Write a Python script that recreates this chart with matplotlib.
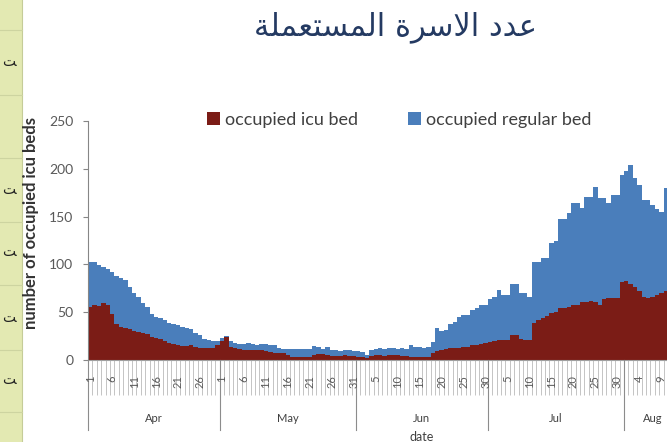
import numpy as np
import pandas as pd
import matplotlib
matplotlib.use("Agg")
import matplotlib.pyplot as plt
from matplotlib.patches import Patch, Rectangle
from matplotlib.lines import Line2D
import matplotlib.transforms as mtransforms

# daily values, starting 1 Apr
icu_beds = [55, 58, 57, 60, 58, 48, 38, 34, 33, 32, 30, 29, 28, 27, 24,
            23, 22, 20, 18, 17, 16, 15, 15, 16, 14, 13, 13, 13, 13, 16,
            # May
            20, 24, 14, 13, 11, 10, 10, 10, 10, 10, 9, 8, 7, 7, 7,
            5, 3, 3, 3, 3, 3, 5, 6, 6, 5, 4, 4, 4, 5, 4, 4,
            # Jun
            3, 3, 2, 4, 5, 5, 4, 5, 5, 5, 4, 4, 3, 3, 3,
            3, 3, 7, 9, 10, 11, 13, 13, 13, 14, 14, 16, 16, 17, 18,
            # Jul
            19, 20, 21, 21, 21, 26, 26, 22, 21, 21, 39, 42, 44, 46, 49,
            50, 54, 54, 55, 58, 58, 61, 61, 62, 61, 58, 64, 65, 65, 65, 82,
            # Aug
            83, 80, 76, 72, 66, 65, 66, 68, 70, 72]

# top of the stack (icu + regular)
total_beds = [103, 102, 99, 97, 95, 92, 88, 86, 84, 76, 70, 66, 60, 55, 48,
              45, 44, 42, 39, 38, 37, 34, 33, 32, 28, 26, 22, 21, 20, 20,
              23, 25, 20, 18, 17, 17, 18, 17, 16, 17, 17, 16, 16, 13, 12,
              12, 12, 11, 12, 12, 12, 15, 14, 11, 14, 10, 10, 9, 10, 10, 9,
              9, 8, 5, 10, 11, 13, 12, 13, 13, 12, 13, 12, 16, 14, 14,
              13, 14, 19, 33, 30, 31, 38, 40, 45, 47, 47, 52, 54, 58, 58,
              64, 66, 73, 68, 68, 80, 80, 70, 70, 66, 103, 103, 107, 107, 122,
              125, 148, 148, 154, 164, 164, 159, 171, 171, 181, 169, 169, 164, 173, 173, 194,
              198, 204, 190, 183, 167, 167, 162, 158, 155, 180]

legend_labels = ["occupied icu bed", "occupied regular bed"]
month_names = ["Apr", "May", "Jun", "Jul", "Aug"]
month_days = [30, 31, 30, 31, 13]
y_ticks = [0, 50, 100, 150, 200, 250]
# "عدد الاسرة المستعملة" in presentation forms, visual (right-to-left) order
title_forms = ("\ufecb\ufeaa\ufea9 \ufe8d\ufefb\ufeb3\ufeae\ufe93 "
               "\ufe8d\ufedf\ufee4\ufeb4\ufe98\ufecc\ufee4\ufee0\ufe94")
title_text = title_forms[::-1]

icu = np.array(icu_beds)
total = np.array(total_beds)
edges = np.arange(len(icu) + 1)
dates = pd.date_range("2020-04-01", periods=sum(month_days))

W, H = 667, 442
red = "#7b1c16"
blue = "#4a7ebb"
grey_txt = "#404040"
tick_txt = "#595959"

plt.rcParams['font.family'] = ['Lato', 'DejaVu Sans']
fig = plt.figure(figsize=(W / 100, H / 100), dpi=100)

# left strip of the spreadsheet behind the chart
fig.patches.append(Rectangle((0, 0), 22 / W, 1, transform=fig.transFigure,
                             facecolor="#e3e9b2", edgecolor="none", zorder=0))
fig.add_artist(Line2D([22 / W, 22 / W], [0, 1], color="#c5cc98", lw=0.8))
for yy in [30, 95, 158, 222, 285, 350, 412]:
    fig.add_artist(Line2D([0, 22 / W], [1 - yy / H] * 2, color="#cdd4a0", lw=0.8))
for yy in [62, 190, 252, 318, 380]:
    fig.text(9 / W, 1 - yy / H, "\ufe96", fontsize=10, ha="center", va="center",
             family="DejaVu Sans", color="#222222")

px_day = 536 / 122
n_days = sum(month_days)
ax = fig.add_axes([88 / W, 1 - 360 / H, n_days * px_day / W, 239 / H])
ax.stairs(icu, edges, baseline=0, fill=True, color=red, lw=0)
ax.stairs(total, edges, baseline=icu, fill=True, color=blue, lw=0)

ax.set_xlim(0, n_days)
ax.set_ylim(0, 250)
ax.set_yticks(y_ticks)
ax.tick_params(axis="y", length=3.6, width=0.8, color="#868686",
               labelsize=10, labelcolor=tick_txt, pad=7)
ax.set_xticks([])
ax.set_xticks(np.arange(n_days + 1), minor=True)
ax.tick_params(axis="x", which="minor", length=25, width=0.7, color="#c4c4c4")
for s in ["top", "right"]:
    ax.spines[s].set_visible(False)
ax.spines["left"].set_color("#868686")
ax.spines["bottom"].set_color("#a0a0a0")

trans = mtransforms.blended_transform_factory(ax.transData, fig.transFigure)
bounds = np.concatenate([[0], np.cumsum(month_days)])
for b in bounds[:-1]:
    fig.add_artist(Line2D([b, b], [1 - 360 / H, 1 - 430 / H], transform=trans,
                          color="#8c8c8c", lw=0.8))
for i, name in enumerate(month_names):
    fig.text((bounds[i] + bounds[i + 1]) / 2, 1 - 419 / H, name, transform=trans,
             ha="center", va="center", fontsize=8, color=grey_txt)
for i in range(0, n_days, 5):
    fig.text(i + 0.5, 1 - 375 / H, str(dates[i].day), transform=trans,
             rotation=90, ha="center", va="top", fontsize=8, color=tick_txt)

fig.text((bounds[2] + bounds[3]) / 2, 1 - 431 / H, "date", transform=trans,
         ha="center", va="top", fontsize=9, color=grey_txt)
fig.text(31 / W, 1 - 223 / H, "number of occupied icu beds", rotation=90,
         ha="center", va="center", fontsize=12, fontweight="bold", color="#333333")
fig.text(395 / W, 1 - 27 / H, title_text, ha="center", va="center",
         fontsize=22, family="DejaVu Sans", color="#243a62")

handles = [Patch(facecolor=red), Patch(facecolor=blue)]
fig.legend(handles, legend_labels, loc="center left", ncol=2,
           bbox_to_anchor=(207 / W, 1 - 120 / H), frameon=False,
           borderpad=0, borderaxespad=0, handlelength=0.72, handleheight=0.72,
           handletextpad=0.25, columnspacing=2.8, fontsize=13,
           labelcolor=grey_txt)

fig.savefig("out.png", dpi=100)
